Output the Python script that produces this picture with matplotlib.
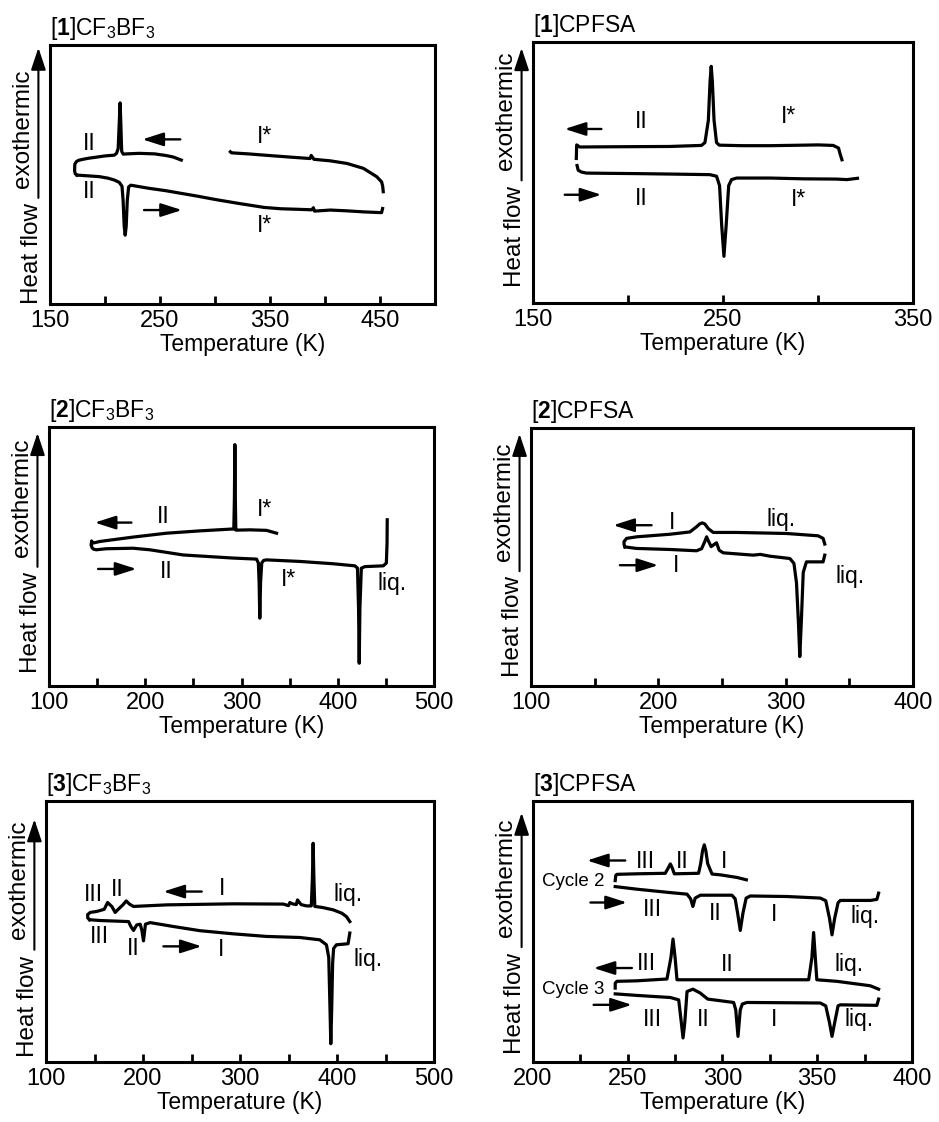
import numpy as np
import matplotlib
matplotlib.use('Agg')
import matplotlib.pyplot as plt
from matplotlib.ticker import FixedLocator

plt.rcParams['font.family'] = ['Liberation Sans', 'DejaVu Sans']
plt.rcParams['mathtext.fontset'] = 'custom'
plt.rcParams['mathtext.rm'] = 'Liberation Sans'
plt.rcParams['mathtext.it'] = 'Liberation Sans:italic'
plt.rcParams['mathtext.bf'] = 'Liberation Sans:bold'

# ---- [1]CF3BF3 ----
p1_cool_T = [269.4, 262, 255, 245, 231, 220, 216.6, 215.2, 214.4, 213.8, 213.0, 212.0, 210.5, 208.5,
             200, 195, 185, 180, 176, 174, 172.6, 172.4, 173, 174.6]
p1_cool_y = [55.6, 56.8, 57.4, 58.0, 58.2, 58.0, 57.9, 59, 70, 77.7, 70, 60, 58.2, 57.5,
             57.2, 56.9, 56.3, 55.9, 55.5, 55.0, 54.0, 51.5, 50.3, 49.8]
p1_heat_T = [174.6, 185, 195, 203, 208.5, 213, 215.5, 216.5, 217.5, 218.4, 219.3, 220.3, 221.5, 223.5,
             240, 255, 270, 285, 300, 321, 345, 360, 375, 388, 389.5, 390.5, 405, 420, 435, 451.5, 452.4]
p1_heat_y = [49.8, 49.5, 49.2, 48.6, 47.9, 47.0, 45.5, 40, 30, 26.6, 30, 40, 45.2, 45.9,
             44.7, 43.8, 42.7, 41.6, 40.4, 38.9, 37.3, 36.8, 36.6, 36.4, 37.2, 35.9, 36.3, 36.0, 35.6, 35.3, 36.9]
p1_hot_T = [453, 452.5, 451.5, 447, 441, 435, 420, 405, 390, 388.5, 387.5, 386.5, 370, 345, 330, 315, 314]
p1_hot_y = [43.4, 45.5, 47.2, 49.2, 50.8, 52.4, 54.3, 55.3, 55.9, 56.8, 57.4, 56.2, 56.7, 57.5, 58.0, 58.4, 58.8]
p1_labels = [('II', 186, 62.0), ('II', 186, 43.4), ('I*', 345, 64.6), ('I*', 345, 30.5)]
p1_arrows = [(268.5, 234, 63.6), (235.5, 270, 36.3)]

# ---- [1]CPFSA ----
p2_cool_T = [312.6, 311.5, 310.8, 308, 300, 292.3, 274.7, 260, 248, 246.6, 245.3, 244.4, 243.8, 243.2,
             242.3, 240.5, 238.7, 222, 195.7, 174.6, 173.0, 172.8]
p2_cool_y = [54.9, 57.5, 59.4, 60.4, 60.6, 60.5, 60.3, 60.3, 60.5, 61.5, 70, 85, 90.7, 85,
             70, 61.5, 60.4, 60.0, 59.9, 59.8, 60.6, 55.4]
p2_heat_T = [173.2, 173.8, 175.5, 178.1, 190, 204.5, 225, 243.1, 246.6, 248.2, 249.3, 250.5, 251.7, 253,
             254.5, 257.2, 274.7, 292.3, 309.9, 315.2, 320.8]
p2_heat_y = [52.7, 50.9, 50.2, 49.8, 49.7, 49.6, 49.4, 49.2, 48.6, 45, 30, 17.9, 30, 45,
             47.3, 47.9, 47.9, 47.6, 47.5, 47.3, 47.8]
p2_labels = [('II', 207, 69.6), ('II', 207, 40.2), ('I*', 284.4, 71.5), ('I*', 289.7, 39.6)]
p2_arrows = [(186, 166.7, 66.7), (166.7, 186, 41.5)]

# ---- [2]CF3BF3 ----
p3_cool_T = [336.4, 326, 308.7, 296, 294.1, 293.6, 293.1, 292.6, 292.0, 289.6, 256.7, 222, 187.3,
             152.7, 145.8, 144.2, 144.0]
p3_cool_y = [59.0, 60.1, 60.3, 60.2, 60.2, 72, 93.2, 72, 60.6, 60.6, 59.9, 59.0, 57.5,
             55.8, 55.2, 56.0, 54.5]
p3_heat_T = [144.0, 144.6, 146.5, 149.2, 159.6, 187.3, 204.7, 239.3, 291.3, 315.6, 317.5, 318.3, 319.0,
             319.8, 321, 323, 326, 360.6, 395.3, 417.8, 420.5, 421.6, 422.3, 423.0, 424.5, 428.2, 447.3,
             450.5, 451.2, 451.4]
p3_heat_y = [54.5, 53.4, 52.8, 52.6, 53.0, 53.2, 52.6, 50.6, 49.4, 49.0, 47.5, 40, 26.2,
             40, 47.5, 48.5, 48.7, 48.1, 47.2, 46.4, 45.5, 30, 8.8, 30, 45.5, 46.1, 46.4,
             47.5, 55, 64.2]
p3_labels = [('II', 218.5, 65.5), ('II', 222, 44.2), ('I*', 324.3, 68.0), ('I*', 348.5, 41.2),
             ('liq.', 456, 39.7)]
p3_arrows = [(185.6, 147.5, 63.1), (151, 190.8, 45.2)]

# ---- [2]CPFSA ----
p4_cool_T = [330.7, 329.4, 325.5, 300.6, 261.4, 243.1, 239.2, 236.5, 234.5, 232.5, 230, 224.8, 209.1,
             182.9, 175.1, 173.0, 173.2, 173.8]
p4_cool_y = [55.0, 57.2, 58.2, 59.1, 59.5, 59.5, 61.0, 62.8, 63.2, 62.8, 61.7, 59.7, 58.8,
             57.8, 57.2, 55.9, 54.5, 53.9]
p4_heat_T = [173.8, 182.9, 209.1, 230, 234, 236.5, 237.9, 239.5, 241.5, 243.1, 245.7, 247.8, 251,
             274.5, 280, 287.6, 303.3, 306.5, 308.5, 310, 311.1, 312.3, 313.8, 316.3, 329.4, 330.7]
p4_heat_y = [53.9, 53.3, 52.9, 52.4, 53.2, 56, 57.8, 56, 54.0, 54.6, 55.5, 52.6, 51.6,
             50.7, 51.0, 50.3, 49.4, 47.5, 40, 25, 11.4, 25, 44, 48.1, 48.1, 50.7]
p4_labels = [('I', 210.4, 63.2), ('I', 214.3, 46.8), ('liq.', 296.7, 64.5), ('liq.', 350.3, 42.3)]
p4_arrows = [(194.7, 164.6, 62.3), (169.8, 199.9, 46.8)]

# ---- [3]CF3BF3 ----
p5_cool_T = [413.2, 409.7, 405, 396, 385, 377.1, 376.2, 375.4, 374.6, 373.5, 368.6, 363, 360.5, 359.3,
             358.0, 354, 351.4, 350, 344.6, 293.1, 224.5, 190.2, 186, 182.7, 179.5, 173.1, 171.3, 168,
             163.5, 160, 152.5, 145.6, 143.0, 143.0, 144.9]
p5_cool_y = [53.8, 55.7, 57.0, 58.3, 59.2, 59.6, 70, 83.8, 70, 59.8, 59.8, 60.3, 61.5, 62.1,
             60.3, 60.6, 61.1, 59.9, 60.5, 60.6, 60.2, 59.6, 60.5, 61.7, 60.3, 58.0, 57.3, 59.5,
             61.1, 58.5, 57.7, 57.3, 56.5, 55.2, 54.5]
p5_heat_T = [144.9, 155.9, 185.1, 187.5, 190.2, 193.5, 197.1, 198.8, 200.5, 202.5, 207.4, 231.4, 258.8,
             293.1, 327.4, 361.7, 382.3, 389.1, 391.5, 392.8, 393.6, 394.5, 395.5, 396.5, 399.4, 411.4, 413.2]
p5_heat_y = [54.5, 54.2, 53.8, 51.9, 50.4, 52.5, 52.8, 50.5, 46.4, 52.8, 53.4, 51.9, 50.3,
             49.1, 48.1, 47.7, 46.8, 44.9, 40, 20, 7.0, 20, 38, 43.5, 44.9, 45.3, 49.4]
p5_labels = [('III', 149, 64.0), ('II', 173.7, 65.9), ('I', 281, 66.6), ('liq.', 411.4, 64.0),
             ('III', 155.2, 48.1), ('II', 190.2, 43.6), ('I', 280, 43.0), ('liq.', 432, 39.2)]
p5_arrows = [(260.5, 221, 65.3), (221, 260.5, 44.3)]

# ---- [3]CPFSA, cycles 2 and 3 ----
p6_c2_cool_T = [312.6, 307.7, 298.9, 294.5, 292.2, 291.2, 290.4, 289.5, 288.5, 287.4, 274.6, 273.4,
                272.5, 271.5, 269.8, 254.9, 244.3, 243.7, 243.4]
p6_c2_cool_y = [69.8, 70.7, 71.7, 72.0, 76, 81, 83.2, 81, 76, 72.3, 72.1, 74.5,
                75.9, 74.5, 72.3, 72.1, 71.9, 71.5, 69.5]
p6_c2_heat_T = [243.4, 254.9, 272.5, 281.3, 283.2, 284.4, 285.6, 288.3, 305, 306.7, 308.0, 309.4, 310.8,
                312.5, 314.7, 334, 351.6, 354.5, 356.5, 357.8, 359.2, 361, 362.2, 378, 381.5, 382.4]
p6_c2_heat_y = [67.2, 66.2, 64.9, 64.3, 62.5, 59.6, 62.8, 63.9, 63.9, 62.5, 57, 50.4, 57,
                62.8, 63.6, 63.4, 62.8, 61.8, 55, 48.7, 55, 61.0, 61.9, 61.9, 62.3, 64.7]
p6_c3_cool_T = [382.4, 378, 360.4, 349.8, 349.0, 348.1, 347.2, 345.5, 325.2, 276, 275.0, 273.9, 272.8,
                270.7, 254.9, 244.3, 243.4, 243.4]
p6_c3_cool_y = [27.9, 29.2, 30.9, 31.5, 40, 49.6, 40, 31.5, 31.5, 31.5, 40, 47.1, 40,
                31.8, 31.1, 30.9, 30.2, 28.3]
p6_c3_heat_T = [243.4, 254.9, 272.5, 276.9, 278.3, 279.2, 280.1, 281.3, 284.4, 288.3, 292.2, 305.9, 307.0,
                308.2, 309.4, 310.5, 312.9, 351.6, 354.5, 356.5, 357.8, 359.2, 361, 362.2, 381.5, 382.4]
p6_c3_heat_y = [26.1, 25.5, 24.7, 23.8, 15, 9.2, 15, 27.0, 27.9, 26.4, 24.1, 22.8, 20,
                9.8, 20, 22.2, 22.8, 22.6, 21.5, 15, 9.8, 15, 21.5, 21.9, 21.7, 24.1]
p6_labels = [('III', 259.3, 76.8), ('II', 278.6, 76.8), ('I', 300.6, 76.8),
             ('III', 263.3, 58.3), ('II', 296.2, 57.0), ('I', 327.3, 56.4), ('liq.', 375.4, 55.7),
             ('III', 259.8, 37.9), ('II', 302.4, 37.2), ('liq.', 366.6, 37.2),
             ('III', 262.8, 16.2), ('II', 290, 16.2), ('I', 327.3, 16.2), ('liq.', 371.9, 16.2)]
p6_cycles = [('Cycle 2', 221.5, 69.1), ('Cycle 3', 221.1, 27.9)]
p6_arrows = [(248.7, 228.5, 77.2), (230.3, 249.6, 61.1), (252.2, 232, 36.0), (232, 252.2, 21.9)]

FS = 16.5
LW = 2.3


def setup(ax, xlim, major, minor, title, y0, ytop):
    ax.set_xlim(*xlim)
    ax.set_ylim(0, 100)
    for s in ax.spines.values():
        s.set_linewidth(2.2)
    ax.set_yticks([])
    ax.xaxis.set_major_locator(FixedLocator(major))
    ax.xaxis.set_minor_locator(FixedLocator(minor))
    ax.tick_params(axis='x', which='both', direction='in', length=6, width=2,
                   labelsize=17, pad=4, top=False)
    ax.set_xlabel('Temperature (K)', fontsize=16.5, labelpad=1)
    ax.set_title(title, loc='left', fontsize=16.5, pad=7)
    # heat flow / exothermic arrow
    ax.text(-0.047, y0, 'Heat flow', transform=ax.transAxes, rotation=90,
            rotation_mode='anchor', ha='left', va='center', fontsize=17.5)
    ax.annotate('', xy=(-0.03, ytop), xytext=(-0.03, y0 + 0.41),
                xycoords='axes fraction', annotation_clip=False,
                arrowprops=dict(arrowstyle='-|>,head_length=0.9,head_width=0.3',
                                color='k', lw=1.5, shrinkA=0, shrinkB=0, mutation_scale=15))
    ax.text(-0.041, y0 + 0.45, 'exothermic', transform=ax.transAxes, rotation=90,
            rotation_mode='anchor', ha='left', va='bottom', fontsize=17.5)


def decorate(ax, labels, arrows):
    for s, x, y in labels:
        ax.text(x, y, s, ha='center', va='center', fontsize=FS)
    for x0, x1, y in arrows:
        ax.annotate('', xy=(x1, y), xytext=(x0, y),
                    arrowprops=dict(arrowstyle='-|>,head_length=0.75,head_width=0.24',
                                    color='k', lw=1.7, shrinkA=0, shrinkB=0, mutation_scale=17))


fig = plt.figure(figsize=(9.39, 11.22), dpi=100)

ax1 = fig.add_axes([0.0532, 0.729, 0.410, 0.2308])
setup(ax1, (150, 500), [150, 250, 350, 450], [200, 300, 400],
      r'[$\mathbf{1}$]CF$_3$BF$_3$', 0.0, 0.99)
ax1.plot(p1_cool_T, p1_cool_y, 'k-', lw=LW)
ax1.plot(p1_heat_T, p1_heat_y, 'k-', lw=LW)
ax1.plot(p1_hot_T, p1_hot_y, 'k-', lw=LW)
decorate(ax1, p1_labels, p1_arrows)

ax2 = fig.add_axes([0.5676, 0.7299, 0.4047, 0.2326])
setup(ax2, (150, 350), [150, 250, 350], [200, 300],
      r'[$\mathbf{1}$]CPFSA', 0.06, 0.977)
ax2.plot(p2_cool_T, p2_cool_y, 'k-', lw=LW)
ax2.plot(p2_heat_T, p2_heat_y, 'k-', lw=LW)
decorate(ax2, p2_labels, p2_arrows)

ax3 = fig.add_axes([0.0522, 0.3886, 0.410, 0.2308])
setup(ax3, (100, 500), [100, 200, 300, 400, 500], [150, 250, 350, 450],
      r'[$\mathbf{2}$]CF$_3$BF$_3$', 0.05, 0.977)
ax3.plot(p3_cool_T, p3_cool_y, 'k-', lw=LW)
ax3.plot(p3_heat_T, p3_heat_y, 'k-', lw=LW)
decorate(ax3, p3_labels, p3_arrows)

ax4 = fig.add_axes([0.5655, 0.3886, 0.4068, 0.23])
setup(ax4, (100, 400), [100, 200, 300, 400], [150, 250, 350],
      r'[$\mathbf{2}$]CPFSA', 0.035, 0.977)
ax4.plot(p4_cool_T, p4_cool_y, 'k-', lw=LW)
ax4.plot(p4_heat_T, p4_heat_y, 'k-', lw=LW)
decorate(ax4, p4_labels, p4_arrows)

ax5 = fig.add_axes([0.049, 0.0535, 0.4132, 0.2326])
setup(ax5, (100, 500), [100, 200, 300, 400, 500], [150, 250, 350, 450],
      r'[$\mathbf{3}$]CF$_3$BF$_3$', 0.02, 0.93)
ax5.plot(p5_cool_T, p5_cool_y, 'k-', lw=LW)
ax5.plot(p5_heat_T, p5_heat_y, 'k-', lw=LW)
decorate(ax5, p5_labels, p5_arrows)

ax6 = fig.add_axes([0.5676, 0.0535, 0.4036, 0.2326])
setup(ax6, (200, 400), [200, 250, 300, 350, 400], [225, 275, 325, 375],
      r'[$\mathbf{3}$]CPFSA', 0.03, 0.955)
ax6.plot(p6_c2_cool_T, p6_c2_cool_y, 'k-', lw=LW)
ax6.plot(p6_c2_heat_T, p6_c2_heat_y, 'k-', lw=LW)
ax6.plot(p6_c3_cool_T, p6_c3_cool_y, 'k-', lw=LW)
ax6.plot(p6_c3_heat_T, p6_c3_heat_y, 'k-', lw=LW)
decorate(ax6, p6_labels, p6_arrows)
for s, x, y in p6_cycles:
    ax6.text(x, y, s, ha='center', va='center', fontsize=13.5)

fig.savefig('out.png', dpi=100)
